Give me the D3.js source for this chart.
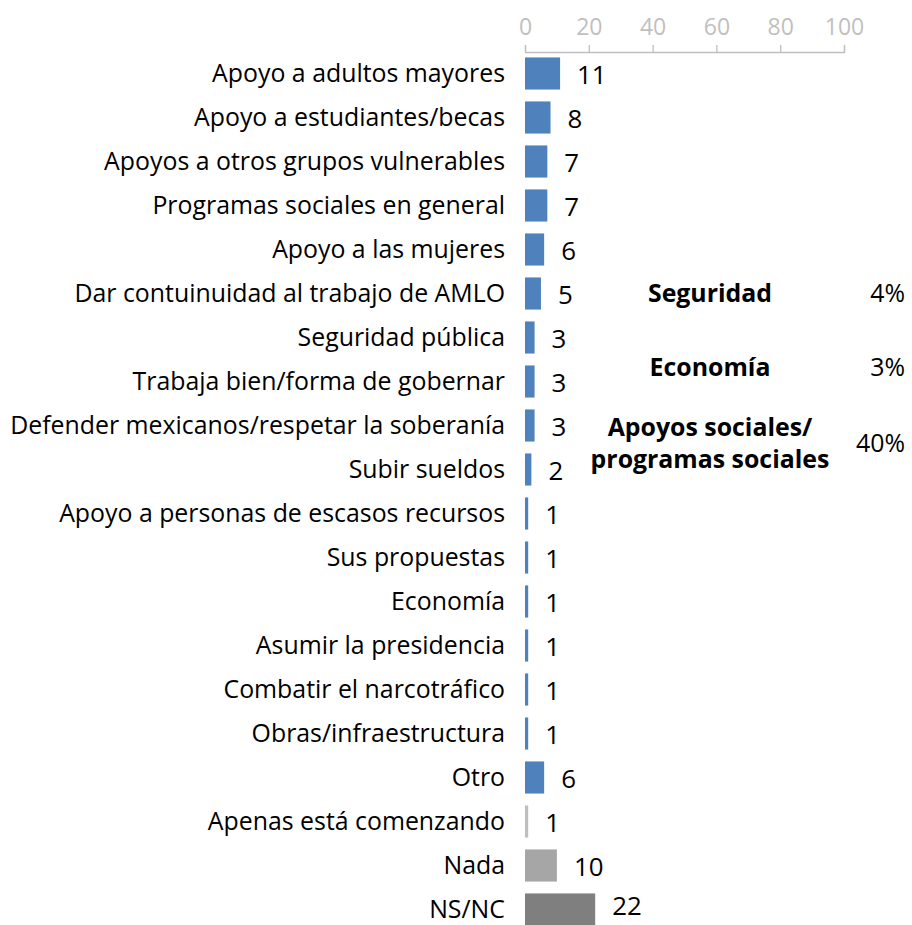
<!DOCTYPE html>
<html><head><meta charset="utf-8">
<script src="https://cdn.jsdelivr.net/npm/d3@7"></script>
<style>body{margin:0;background:#fff;} svg{display:block;font-family:"Open Sans","Noto Sans",sans-serif;}</style>
</head><body>
<script>
const categories = ["Apoyo a adultos mayores","Apoyo a estudiantes/becas","Apoyos a otros grupos vulnerables","Programas sociales en general","Apoyo a las mujeres","Dar contuinuidad al trabajo de AMLO","Seguridad pública","Trabaja bien/forma de gobernar","Defender mexicanos/respetar la soberanía","Subir sueldos","Apoyo a personas de escasos recursos","Sus propuestas","Economía","Asumir la presidencia","Combatir el narcotráfico","Obras/infraestructura","Otro","Apenas está comenzando","Nada","NS/NC"];
const values = [11,8,7,7,6,5,3,3,3,2,1,1,1,1,1,1,6,1,10,22];
const groups = ["pos","pos","pos","pos","pos","pos","pos","pos","pos","pos","pos","pos","pos","pos","pos","pos","pos","apenas","nada","nsnc"];
const ticks = [0,20,40,60,80,100];
const summaryLabels = [["Seguridad"],["Economía"],["Apoyos sociales/","programas sociales"]];
const summaryValues = ["4%","3%","40%"];

const W=912,H=925;
const svg=d3.select("body").append("svg").attr("width",W).attr("height",H);
const x=d3.scaleLinear().domain([0,100]).range([525,844]);
const y=d3.scaleBand().domain(categories).range([51.5,931.5]).paddingInner(0.27).paddingOuter(0.135);
const color=d3.scaleOrdinal().domain(["pos","apenas","nada","nsnc"]).range(["#4f81bd","#bfbfbf","#a6a6a6","#7f7f7f"]);

// axis
const ax=svg.append("g").attr("transform","translate(0,52)")
  .call(d3.axisTop(x).tickValues(ticks).tickSize(7).tickPadding(10));
ax.select(".domain").attr("stroke","#bfbfbf").attr("stroke-width",1.3).attr("d","M525.5,-7V0.5H844.5V-7");
ax.selectAll(".tick line").attr("stroke","#bfbfbf").attr("stroke-width",1.3);
ax.selectAll(".tick text").attr("fill","#bfbfbf").attr("font-size",23).attr("font-family","Open Sans, sans-serif");

// bars
svg.append("g").selectAll("rect").data(categories).join("rect")
  .attr("x",x(0)).attr("y",d=>y(d)).attr("height",y.bandwidth())
  .attr("width",(d,i)=>x(values[i])-x(0)).attr("fill",(d,i)=>color(groups[i]));

// category labels
const lab=svg.append("g").selectAll("text").data(categories).join("text")
  .attr("x",505).attr("y",d=>y(d)+y.bandwidth()/2).attr("dy","0.35em")
  .attr("text-anchor","end").attr("font-size",22).attr("fill","#000").text(d=>d);
let maxW=0; lab.each(function(){maxW=Math.max(maxW,this.getComputedTextLength());});
const fs=22*495/maxW;
lab.attr("font-size",fs);

// value labels
svg.append("g").selectAll("text").data(categories).join("text")
  .attr("x",(d,i)=>x(values[i])+17).attr("y",(d,i)=>y(d)+y.bandwidth()/2+(i===19?-4:1)).attr("dy","0.35em")
  .attr("font-size",fs+1).attr("fill","#000").text((d,i)=>values[i]);

// summary
const sy=[293,367,443];
summaryLabels.forEach((lines,i)=>{
  const t=svg.append("text").attr("x",710).attr("text-anchor","middle").attr("font-weight","bold").attr("font-size",fs).attr("fill","#000");
  lines.forEach((l,j)=>{
    t.append("tspan").attr("x",710).attr("y",sy[i]+(j-(lines.length-1)/2)*32).attr("dy","0.35em").text(l);
  });
  svg.append("text").attr("x",905).attr("y",sy[i]).attr("dy","0.35em").attr("text-anchor","end").attr("font-size",fs).attr("fill","#000").text(summaryValues[i]);
});
</script>
</body></html>
